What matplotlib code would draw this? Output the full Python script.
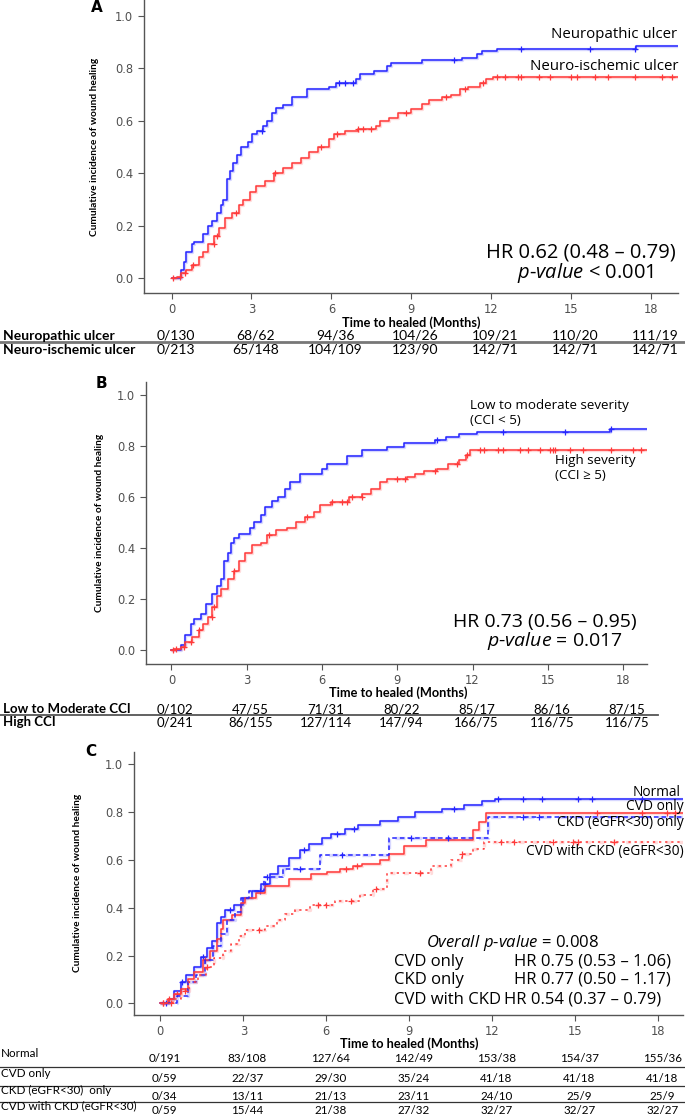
import numpy as np
import matplotlib
matplotlib.use("Agg")
import matplotlib.pyplot as plt
from matplotlib.lines import Line2D

plt.rcParams["mathtext.fontset"] = "custom"
plt.rcParams["mathtext.it"] = "Open Sans:italic"
plt.rcParams["mathtext.rm"] = "Open Sans"

W, H = 685, 1116
fig = plt.figure(figsize=(W / 100, H / 100), dpi=100)

BLUE = "#2626ff"
RED = "#ff3b3b"
TICKC = "#505050"
ANN = "Open Sans"
TAB = "Lato"

month_ticks = [0, 3, 6, 9, 12, 15, 18]
y_ticks = [0.0, 0.2, 0.4, 0.6, 0.8, 1.0]

# ---------------- Panel A data ----------------
a_neuro_t = [0.37, 0.45, 0.56, 0.78, 0.86, 1.19, 1.36, 1.52, 1.69, 1.85, 1.94, 2.07, 2.19, 2.32,
             2.44, 2.60, 2.85, 3.02, 3.19, 3.43, 3.60, 3.77, 3.93, 4.18, 4.51, 5.09, 5.92, 6.17,
             6.91, 7.08, 7.58, 8.07, 8.24, 9.40, 10.89, 11.47, 11.64, 12.22, 17.44]
a_neuro_v = [0.03, 0.063, 0.10, 0.13, 0.14, 0.17, 0.20, 0.22, 0.25, 0.28, 0.30, 0.38, 0.41, 0.44,
             0.47, 0.50, 0.52, 0.55, 0.56, 0.58, 0.60, 0.63, 0.65, 0.66, 0.69, 0.72, 0.73, 0.745,
             0.76, 0.78, 0.79, 0.81, 0.82, 0.83, 0.84, 0.855, 0.865, 0.875, 0.883]
a_neuro_cens = [3.4, 6.3, 6.5, 6.8, 10.6, 13.1, 15.7, 17.4]
a_isch_t = [0.20, 0.36, 0.53, 0.78, 1.03, 1.19, 1.36, 1.61, 1.77, 2.02, 2.27, 2.52, 2.69, 2.94,
            3.18, 3.52, 3.85, 4.18, 4.51, 4.84, 5.17, 5.51, 5.92, 6.09, 6.50, 7.00, 7.66, 7.83,
            8.16, 8.49, 8.99, 9.40, 9.65, 10.15, 10.48, 10.81, 11.14, 11.56, 11.81, 12.06]
a_isch_v = [0.005, 0.02, 0.03, 0.05, 0.08, 0.10, 0.13, 0.16, 0.19, 0.23, 0.25, 0.28, 0.30, 0.33,
            0.35, 0.37, 0.40, 0.42, 0.44, 0.46, 0.48, 0.50, 0.53, 0.55, 0.56, 0.57, 0.58, 0.60,
            0.61, 0.63, 0.645, 0.665, 0.68, 0.69, 0.70, 0.72, 0.73, 0.745, 0.76, 0.765]
a_isch_cens = [0.05, 0.3, 0.5, 0.8, 1.6, 1.7, 2.4, 3.9, 5.6, 6.2, 7.0, 7.2, 7.5, 8.8, 10.3, 11.0,
               11.7, 12.2, 12.5, 13.0, 13.1, 13.8, 14.2, 15.0, 15.2, 15.9, 16.4, 17.4, 18.4, 18.8]
a_rows = ["Neuropathic ulcer", "Neuro-ischemic ulcer"]
a_counts = [["0/130", "68/62", "94/36", "104/26", "109/21", "110/20", "111/19"],
            ["0/213", "65/148", "104/109", "123/90", "142/71", "142/71", "142/71"]]

# ---------------- Panel B data ----------------
b_low_t = [0.39, 0.56, 0.77, 0.92, 1.18, 1.36, 1.62, 1.80, 1.97, 2.11, 2.24, 2.36, 2.50, 2.68,
           3.12, 3.29, 3.56, 3.73, 3.99, 4.26, 4.53, 4.71, 5.14, 6.02, 6.20, 6.99, 7.61, 8.58,
           9.28, 10.51, 10.95, 11.48, 12.19, 17.47]
b_low_v = [0.02, 0.06, 0.10, 0.12, 0.14, 0.18, 0.22, 0.25, 0.28, 0.35, 0.38, 0.42, 0.44, 0.455,
           0.48, 0.50, 0.53, 0.56, 0.585, 0.60, 0.63, 0.66, 0.69, 0.71, 0.73, 0.76, 0.785, 0.795,
           0.81, 0.825, 0.835, 0.845, 0.855, 0.865]
b_low_cens = [10.6, 13.2, 15.7, 17.5]
b_high_t = [0.12, 0.39, 0.56, 0.83, 1.09, 1.27, 1.44, 1.62, 1.80, 1.97, 2.24, 2.50, 2.68, 2.94,
            3.21, 3.56, 3.82, 4.17, 4.61, 4.97, 5.32, 5.67, 5.94, 6.38, 7.08, 7.61, 7.96, 8.31,
            8.58, 9.37, 9.72, 10.07, 10.60, 11.04, 11.48, 11.75, 11.92]
b_high_v = [0.005, 0.01, 0.03, 0.05, 0.08, 0.10, 0.13, 0.17, 0.21, 0.24, 0.28, 0.31, 0.35, 0.38,
            0.41, 0.42, 0.45, 0.47, 0.48, 0.50, 0.52, 0.54, 0.57, 0.58, 0.60, 0.61, 0.63, 0.66,
            0.67, 0.68, 0.69, 0.70, 0.71, 0.73, 0.745, 0.765, 0.785]
b_high_cens = [0.05, 0.2, 0.5, 0.8, 1.1, 1.6, 1.7, 2.5, 3.9, 5.4, 6.4, 6.8, 7.0, 7.2, 7.6, 9.0, 9.3,
               10.5, 11.4, 11.8, 12.3, 12.45, 13.0, 13.2, 13.9, 14.2, 14.7, 15.1, 15.2, 15.3,
               15.9, 16.4, 17.5, 18.4, 18.7]
b_rows = ["Low to Moderate CCI", "High CCI"]
b_counts = [["0/102", "47/55", "71/31", "80/22", "85/17", "86/16", "87/15"],
            ["0/241", "86/155", "127/114", "147/94", "166/75", "116/75", "116/75"]]

# ---------------- Panel C data ----------------
c_norm_t = [0.3, 0.5, 0.75, 0.91, 1.23, 1.47, 1.70, 1.87, 2.03, 2.20, 2.35, 2.67, 2.99, 3.31, 3.63,
            3.95, 4.26, 4.66, 5.06, 5.38, 5.86, 6.18, 6.66, 7.14, 7.94, 8.58, 9.22, 10.17, 10.97,
            11.61, 12.09]
c_norm_v = [0.02, 0.05, 0.09, 0.12, 0.15, 0.195, 0.23, 0.26, 0.335, 0.36, 0.39, 0.41, 0.44, 0.47,
            0.50, 0.54, 0.575, 0.61, 0.64, 0.665, 0.69, 0.71, 0.73, 0.745, 0.765, 0.78, 0.80,
            0.815, 0.83, 0.845, 0.855]
c_norm_cens = [0.2, 0.8, 1.55, 2.5, 3.6, 3.8, 5.2, 6.4, 7.0, 10.6, 12.2, 13.1, 13.8, 15.1, 15.6, 17.4]
c_cvd_t = [0.27, 0.51, 0.75, 0.99, 1.23, 1.55, 1.79, 2.03, 2.19, 2.27, 2.59, 2.91, 3.07, 3.47,
           3.79, 4.66, 5.46, 6.02, 6.50, 6.98, 7.30, 7.94, 8.26, 8.82, 9.62, 11.29, 11.53, 11.77]
c_cvd_v = [0.02, 0.04, 0.06, 0.10, 0.13, 0.18, 0.22, 0.27, 0.31, 0.35, 0.37, 0.42, 0.44, 0.46,
           0.49, 0.52, 0.54, 0.55, 0.56, 0.575, 0.585, 0.60, 0.625, 0.66, 0.685, 0.725, 0.76, 0.795]
c_cvd_cens = [0.1, 0.3, 0.6, 1.6, 6.7, 7.1, 15.8, 17.4, 18.3, 18.6]
c_ckd_t = [0.6, 1.0, 1.3, 1.6, 1.9, 2.2, 2.4, 2.7, 2.9, 3.2, 3.75, 4.45, 5.78, 8.26, 11.85]
c_ckd_v = [0.03, 0.09, 0.12, 0.18, 0.24, 0.29, 0.35, 0.38, 0.44, 0.47, 0.53, 0.56, 0.62, 0.69, 0.78]
c_ckd_cens = [3.87, 5.06, 6.58, 9.06, 10.4, 13.1, 13.7]
c_both_t = [0.45, 0.75, 1.05, 1.35, 1.65, 1.95, 2.25, 2.55, 2.85, 3.05, 3.8, 4.2, 4.5, 4.85, 5.4,
            6.3, 7.2, 7.7, 8.2, 9.8, 10.5, 10.9, 11.3, 11.7]
c_both_v = [0.02, 0.05, 0.09, 0.12, 0.15, 0.19, 0.22, 0.25, 0.28, 0.305, 0.325, 0.35, 0.375, 0.39,
            0.41, 0.43, 0.455, 0.48, 0.545, 0.575, 0.60, 0.625, 0.645, 0.675]
c_both_cens = [0.1, 0.4, 0.9, 1.7, 3.55, 5.7, 6.0, 6.9, 7.78, 9.38, 10.9, 12.3, 12.8, 14.2, 14.9,
               15.1, 16.4]
c_rows = ["Normal", "CVD only", "CKD (eGFR<30)  only", "CVD with CKD (eGFR<30)"]
c_counts = [["0/191", "83/108", "127/64", "142/49", "153/38", "154/37", "155/36"],
            ["0/59", "22/37", "29/30", "35/24", "41/18", "41/18", "41/18"],
            ["0/34", "13/11", "21/13", "23/11", "24/10", "25/9", "25/9"],
            ["0/59", "15/44", "21/38", "27/32", "32/27", "32/27", "32/27"]]


def fy(py):
    return 1 - py / H


def make_ax(left_px, right_px, top_px, bottom_px, xlim, ylim):
    ax = fig.add_axes([left_px / W, fy(bottom_px), (right_px - left_px) / W, (bottom_px - top_px) / H])
    ax.set_xlim(*xlim)
    ax.set_ylim(*ylim)
    for s in ["top", "right"]:
        ax.spines[s].set_visible(False)
    for s in ["left", "bottom"]:
        ax.spines[s].set_color("#555555")
        ax.spines[s].set_linewidth(1.0)
    ax.set_xticks(month_ticks)
    ax.set_yticks(y_ticks)
    ax.set_yticklabels([f"{v:.1f}" for v in y_ticks])
    ax.tick_params(axis="both", colors="#555555", labelcolor=TICKC, labelsize=8.3, length=4, width=0.8)
    ax.tick_params(axis="x", pad=3)
    ax.patch.set_alpha(0)
    return ax


def km(ax, t, v, cens, color, end, ls="-"):
    xs = np.concatenate([[0.0], np.asarray(t, float), [end]])
    ys = np.concatenate([[0.0], np.asarray(v, float), [v[-1]]])
    ax.step(xs, ys, where="post", color=color, lw=2.4, alpha=0.18, ls=ls, solid_capstyle="butt")
    ax.step(xs, ys, where="post", color=color, lw=1.1, ls=ls)
    c = np.asarray(cens, float)
    idx = np.searchsorted(xs, c, side="right") - 1
    ax.plot(c, ys[idx], "+", color=color, ms=5, mew=0.9)


def ylabel(ax, x_px):
    ax.set_ylabel("Cumulative incidence of wound healing", family=[TAB, "DejaVu Sans"],
                  fontweight="bold", fontsize=7.3)
    ax.yaxis.set_label_coords((x_px - ax.get_position().x0 * W) / (ax.get_position().width * W), 0.5)


def table(ax, rows, counts, row_py, bold, fontsize, xoff=4):
    for r, (name, py) in enumerate(zip(rows, row_py)):
        fig.text(3 / W, fy(py), name, fontsize=fontsize, family=[TAB, "DejaVu Sans"],
                 fontweight="bold" if bold else "normal", va="center", ha="left")
        for m, s in zip(month_ticks, counts[r]):
            xd = ax.transData.transform((m, 0))[0]
            fig.text((xd + xoff) / W, fy(py), s, fontsize=fontsize, family=[TAB, "DejaVu Sans"],
                     va="center", ha="center")


def hline(py, x0, x1, color, lw):
    fig.add_artist(Line2D([x0 / W, x1 / W], [fy(py), fy(py)], transform=fig.transFigure,
                          color=color, lw=lw))


# ================= Panel A =================
axA = make_ax(143.6, 678.3, 0, 293.3, (-1.05, 19.02), (-0.057, 1.06))
km(axA, a_neuro_t, a_neuro_v, a_neuro_cens, BLUE, 19.02)
km(axA, a_isch_t, a_isch_v, a_isch_cens, RED, 19.02)
ylabel(axA, 99)
fig.text(97 / W, fy(7), "A", fontsize=11, fontweight="bold", va="center", ha="center")
fig.text(677 / W, fy(34), "Neuropathic ulcer", fontsize=10.8, family=ANN, ha="right", va="center")
fig.text(679 / W, fy(66), "Neuro-ischemic ulcer", fontsize=10.8, family=ANN, ha="right", va="center")
fig.text(676 / W, fy(253), "HR 0.62 (0.48 \u2013 0.79)", fontsize=14.5, family=ANN, ha="right", va="center")
fig.text(654 / W, fy(273), r"$\mathit{p\text{-}value}$ < 0.001", fontsize=14.5, family=ANN,
         ha="right", va="center")
fig.text(411 / W, fy(323), "Time to healed (Months)", fontsize=9.2, family=[TAB, "DejaVu Sans"],
         fontweight="bold", ha="center", va="center")
table(axA, a_rows, a_counts, [335.5, 349.5], True, 10.0)
hline(342.3, 0, 685, "#777777", 2.0)

# ================= Panel B =================
axB = make_ax(145.8, 647.4, 381.7, 664, (-1.02, 18.97), (-0.055, 1.052))
km(axB, b_low_t, b_low_v, b_low_cens, BLUE, 18.97)
km(axB, b_high_t, b_high_v, b_high_cens, RED, 18.97)
ylabel(axB, 104)
fig.text(101 / W, fy(383), "B", fontsize=11, fontweight="bold", va="center", ha="center")
fig.text(470 / W, fy(405), "Low to moderate severity", fontsize=9.6, family=ANN, ha="left", va="center")
fig.text(470 / W, fy(420), "(CCI < 5)", fontsize=9.6, family=ANN, ha="left", va="center")
fig.text(555 / W, fy(461), "High severity", fontsize=9.6, family=ANN, ha="left", va="center")
fig.text(555 / W, fy(476), "(CCI \u2265 5)", fontsize=9.6, family=[ANN, "DejaVu Sans"], ha="left", va="center")
fig.text(637 / W, fy(622), "HR 0.73 (0.56 \u2013 0.95)", fontsize=14, family=ANN, ha="right", va="center")
fig.text(623 / W, fy(641), r"$\mathit{p\text{-}value}$ = 0.017", fontsize=14, family=ANN,
         ha="right", va="center")
fig.text(398 / W, fy(693), "Time to healed (Months)", fontsize=9.2, family=[TAB, "DejaVu Sans"],
         fontweight="bold", ha="center", va="center")
table(axB, b_rows, b_counts, [709, 722.5], True, 9.5)
hline(714.5, 0, 658, "#555555", 1.3)

# ================= Panel C =================
axC = make_ax(133.5, 682.7, 751.7, 1015, (-0.97, 18.88), (-0.049, 1.053))
km(axC, c_norm_t, c_norm_v, c_norm_cens, BLUE, 18.88)
km(axC, c_cvd_t, c_cvd_v, c_cvd_cens, RED, 18.88)
km(axC, c_ckd_t, c_ckd_v, c_ckd_cens, BLUE, 18.88, ls=(0, (3, 2)))
km(axC, c_both_t, c_both_v, c_both_cens, RED, 18.88, ls=(0, (1.5, 2.5)))
ylabel(axC, 82)
fig.text(91 / W, fy(751), "C", fontsize=11, fontweight="bold", va="center", ha="center")
fig.text(681 / W, fy(792), "Normal", fontsize=9.9, family=ANN, ha="right", va="center")
fig.text(684 / W, fy(807), "CVD only", fontsize=9.9, family=ANN, ha="right", va="center")
fig.text(684 / W, fy(823), "CKD (eGFR<30) only", fontsize=9.9, family=ANN, ha="right", va="center")
fig.text(684 / W, fy(851), "CVD with CKD (eGFR<30)", fontsize=9.9, family=ANN, ha="right", va="center")
fig.text(426 / W, fy(943), r"$\mathit{Overall\ p\text{-}value}$ = 0.008", fontsize=12, family=ANN,
         ha="left", va="center")
hr_rows = [("CVD only", "HR 0.75 (0.53 \u2013 1.06)", 962, 514),
           ("CKD only", "HR 0.77 (0.50 \u2013 1.17)", 979.5, 514),
           ("CVD with CKD", "HR 0.54 (0.37 \u2013 0.79)", 1000, 504)]
for lab, hr, py, hx in hr_rows:
    fig.text(394.5 / W, fy(py), lab, fontsize=12, family=ANN, ha="left", va="center")
    fig.text(hx / W, fy(py), hr, fontsize=12, family=ANN, ha="left", va="center")
fig.text(409 / W, fy(1044), "Time to healed (Months)", fontsize=9.2, family=[TAB, "DejaVu Sans"],
         fontweight="bold", ha="center", va="center")
# table C: labels slightly above values
c_lab_py = [1053.5, 1073.5, 1090, 1106]
c_val_py = [1058.5, 1079, 1096, 1111]
for r in range(4):
    fig.text(1 / W, fy(c_lab_py[r]), c_rows[r], fontsize=8.4, family=[TAB, "DejaVu Sans"],
             va="center", ha="left")
    for m, s in zip(month_ticks, c_counts[r]):
        xd = axC.transData.transform((m, 0))[0]
        fig.text((xd + 4) / W, fy(c_val_py[r]), s, fontsize=8.4, family=[TAB, "DejaVu Sans"],
                 va="center", ha="center")
for py in [1067.3, 1085.7, 1101.7]:
    hline(py, 0, 685, "#333333", 0.9)

fig.savefig("out.png", dpi=100)
